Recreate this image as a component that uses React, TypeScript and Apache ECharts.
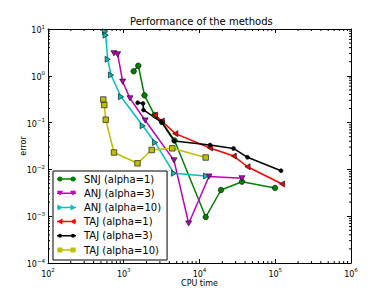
import React, { useEffect, useRef } from "react";
import * as echarts from "echarts";

const snjX = [1352, 1556, 1879, 2547, 3199, 4677, 12075, 19230, 36390, 99300];
const snjY = [1.25, 1.64, 0.383, 0.145, 0.103, 0.0415, 0.00096, 0.00363, 0.00546, 0.00401];

const anj3X = [742, 832, 968, 1209, 1919, 4605, 7197, 13340, 36390];
const anj3Y = [3.03, 2.88, 0.748, 0.33, 0.111, 0.0156, 0.000698, 0.00705, 0.00646];

const anj10X = [566, 578, 614, 679, 920, 1778, 2585, 4605, 12190];
const anj10Y = [8.75, 7.38, 2.25, 1.04, 0.357, 0.0855, 0.0376, 0.00826, 0.00722];

const taj1X = [2585, 3170, 4795, 13760, 28280, 43000, 122800];
const taj1Y = [0.145, 0.108, 0.058, 0.0286, 0.0193, 0.0114, 0.00488];

const taj3X = [1528, 1795, 1822, 3170, 4634, 13760, 28120, 43000, 119100];
const taj3Y = [0.266, 0.256, 0.186, 0.1014, 0.0405, 0.0332, 0.028, 0.01815, 0.00938];

const taj10X = [537, 554, 578, 743, 1519, 2339, 4375, 12075];
const taj10Y = [0.312, 0.2377, 0.1153, 0.023, 0.0135, 0.026, 0.0282, 0.01795];

const seriesNames = [
  "SNJ (alpha=1)",
  "ANJ (alpha=3)",
  "ANJ (alpha=10)",
  "TAJ (alpha=1)",
  "TAJ (alpha=3)",
  "TAJ (alpha=10)",
];

const xTickExponents = [2, 3, 4, 5, 6];
const yTickExponents = [-4, -3, -2, -1, 0, 1];

const X_MIN = 1e2;
const X_MAX = 1e6;
const Y_MIN = 1e-4;
const Y_MAX = 1e1;

const FONT = "DejaVu Sans";

const expLabel = (e: number) => (e < 0 ? "\u2212" + Math.abs(e) : String(e));

const tickFormatter = (exps: number[]) => (v: number) => {
  const e = Math.round(Math.log10(v));
  if (!exps.includes(e)) return "";
  return `{b|10}{s|${expLabel(e)}}`;
};

const richLabel = {
  b: { fontSize: 8, fontFamily: FONT, color: "#000", lineHeight: 11, verticalAlign: "bottom" },
  s: { fontSize: 5.5, fontFamily: FONT, color: "#000", lineHeight: 7, verticalAlign: "top" },
};

const minorX: number[] = [];
for (let d = 2; d < 6; d++) for (let k = 2; k <= 9; k++) minorX.push(k * Math.pow(10, d));
const minorY: number[] = [];
for (let d = -4; d < 1; d++) for (let k = 2; k <= 9; k++) minorY.push(k * Math.pow(10, d));

const zip = (xs: number[], ys: number[]) => xs.map((x, i) => [x, ys[i]]);

const ICON_BOUNDS = "M0,0M19,7";
const RECT_LINE = "M0,2.75L19,2.75L19,4.25L0,4.25Z";
const icons = [
  `path://${ICON_BOUNDS}${RECT_LINE}M0.5,3.5A2.5,2.5 0 1 1 5.5,3.5A2.5,2.5 0 1 1 0.5,3.5ZM13.5,3.5A2.5,2.5 0 1 1 18.5,3.5A2.5,2.5 0 1 1 13.5,3.5Z`,
  `path://${ICON_BOUNDS}${RECT_LINE}M0,1L6,1L3,6ZM13,1L19,1L16,6Z`,
  `path://${ICON_BOUNDS}${RECT_LINE}M0.5,0.5L6,3.5L0.5,6.5ZM13.5,0.5L19,3.5L13.5,6.5Z`,
  `path://${ICON_BOUNDS}${RECT_LINE}M0,3.5L5.5,0.5L5.5,6.5ZM13,3.5L18.5,0.5L18.5,6.5Z`,
  `path://${ICON_BOUNDS}${RECT_LINE}M1,3.5A2,2 0 1 1 5,3.5A2,2 0 1 1 1,3.5ZM14,3.5A2,2 0 1 1 18,3.5A2,2 0 1 1 14,3.5Z`,
  `path://${ICON_BOUNDS}${RECT_LINE}M0.5,1L5.5,1L5.5,6L0.5,6ZM13.5,1L18.5,1L18.5,6L13.5,6Z`,
];

const SYM_DOWN = "path://M0,0L10,0L5,8.66Z";
const SYM_RIGHT = "path://M0,0L8.66,5L0,10Z";
const SYM_LEFT = "path://M8.66,0L0,5L8.66,10Z";

export default function App() {
  const ref = useRef<HTMLDivElement>(null);

  useEffect(() => {
    if (!ref.current) return;
    const chart = echarts.init(ref.current, undefined, { renderer: "svg" });

    const lineSeries = (
      name: string,
      data: number[][],
      color: string,
      symbol: string,
      symbolSize: number
    ) => ({
      name,
      type: "line",
      data,
      symbol,
      symbolSize,
      symbolKeepAspect: true,
      showAllSymbol: true,
      lineStyle: { color, width: 1.5 },
      itemStyle: { color, borderColor: "#000", borderWidth: 0.6 },
      emphasis: { disabled: true },
      xAxisIndex: 0,
      yAxisIndex: 0,
      z: 3,
    });

    const option: any = {
      animation: false,
      backgroundColor: "#fff",
      title: {
        text: "Performance of the methods",
        left: 130,
        top: 16,
        padding: 0,
        textStyle: { fontSize: 10, fontWeight: "normal", fontFamily: FONT, color: "#000" },
      },
      grid: { left: 48, right: 39, top: 29, bottom: 30, containLabel: false },
      xAxis: [
        {
          type: "log",
          logBase: 10,
          min: X_MIN,
          max: X_MAX,
          name: "CPU time",
          nameLocation: "middle",
          nameGap: 16,
          nameMoveOverlap: false,
          nameTextStyle: { fontSize: 8, fontFamily: FONT, color: "#000" },
          axisLine: { show: true, onZero: false, lineStyle: { color: "#000", width: 1 } },
          axisTick: { show: true, inside: true, length: 4, lineStyle: { color: "#000", width: 1 } },
          axisLabel: { formatter: tickFormatter(xTickExponents), rich: richLabel, margin: 4 },
          splitLine: { show: false },
        },
        {
          type: "log",
          logBase: 10,
          min: X_MIN,
          max: X_MAX,
          position: "top",
          axisLine: { show: true, onZero: false, lineStyle: { color: "#000", width: 1 } },
          axisTick: { show: true, inside: true, length: 4, lineStyle: { color: "#000", width: 1 } },
          axisLabel: { show: false },
          splitLine: { show: false },
        },
      ],
      yAxis: [
        {
          type: "log",
          logBase: 10,
          min: Y_MIN,
          max: Y_MAX,
          name: "error",
          nameLocation: "middle",
          nameGap: 21,
          nameMoveOverlap: false,
          nameTextStyle: { fontSize: 8, fontFamily: FONT, color: "#000" },
          axisLine: { show: true, onZero: false, lineStyle: { color: "#000", width: 1 } },
          axisTick: { show: true, inside: true, length: 4, lineStyle: { color: "#000", width: 1 } },
          axisLabel: { formatter: tickFormatter(yTickExponents), rich: richLabel, margin: 3 },
          splitLine: { show: false },
        },
        {
          type: "log",
          logBase: 10,
          min: Y_MIN,
          max: Y_MAX,
          position: "right",
          axisLine: { show: true, onZero: false, lineStyle: { color: "#000", width: 1 } },
          axisTick: { show: true, inside: true, length: 4, lineStyle: { color: "#000", width: 1 } },
          axisLabel: { show: false },
          splitLine: { show: false },
        },
      ],
      legend: {
        orient: "vertical",
        left: 53,
        top: 171,
        padding: [2, 6, 4, 4],
        itemGap: 2.2,
        itemWidth: 19,
        itemHeight: 7,
        backgroundColor: "#fff",
        borderColor: "#000",
        borderWidth: 1,
        selectedMode: false,
        itemStyle: { borderWidth: 0 },
        textStyle: { fontSize: 10, fontFamily: FONT, color: "#000", lineHeight: 12, padding: [0, 0, 0, 3] },
        data: seriesNames.map((n, i) => ({ name: n, icon: icons[i] })),
        z: 10,
      },
      series: [
        lineSeries(seriesNames[0], zip(snjX, snjY), "#008000", "circle", 5.5),
        lineSeries(seriesNames[1], zip(anj3X, anj3Y), "#bf00bf", SYM_DOWN, 6),
        lineSeries(seriesNames[2], zip(anj10X, anj10Y), "#00bfbf", SYM_RIGHT, 6),
        lineSeries(seriesNames[3], zip(taj1X, taj1Y), "#ff0000", SYM_LEFT, 6),
        lineSeries(seriesNames[4], zip(taj3X, taj3Y), "#000000", "circle", 4),
        lineSeries(seriesNames[5], zip(taj10X, taj10Y), "#bfbf00", "rect", 5.5),
        {
          type: "custom",
          name: "minorX",
          silent: true,
          data: minorX.map((v) => [v, 1]),
          clip: false,
          renderItem: (params: any, api: any) => {
            const v = api.value(0);
            const pb = api.coord([v, Y_MIN]);
            const pt = api.coord([v, Y_MAX]);
            return {
              type: "group",
              children: [
                { type: "line", shape: { x1: pb[0], y1: pb[1], x2: pb[0], y2: pb[1] - 2 }, style: { stroke: "#000", lineWidth: 1 } },
                { type: "line", shape: { x1: pt[0], y1: pt[1], x2: pt[0], y2: pt[1] + 2 }, style: { stroke: "#000", lineWidth: 1 } },
              ],
            };
          },
          z: 5,
        },
        {
          type: "custom",
          name: "minorY",
          silent: true,
          data: minorY.map((v) => [1000, v]),
          clip: false,
          renderItem: (params: any, api: any) => {
            const v = api.value(1);
            const pl = api.coord([X_MIN, v]);
            const pr = api.coord([X_MAX, v]);
            return {
              type: "group",
              children: [
                { type: "line", shape: { x1: pl[0], y1: pl[1], x2: pl[0] + 2, y2: pl[1] }, style: { stroke: "#000", lineWidth: 1 } },
                { type: "line", shape: { x1: pr[0], y1: pr[1], x2: pr[0] - 2, y2: pr[1] }, style: { stroke: "#000", lineWidth: 1 } },
              ],
            };
          },
          z: 5,
        },
      ],
    };

    chart.setOption(option);
    return () => chart.dispose();
  }, []);

  return (
    <div
      ref={ref}
      style={{ position: "fixed", left: 0, top: 0, width: 390, height: 293, background: "#fff" }}
    />
  );
}
